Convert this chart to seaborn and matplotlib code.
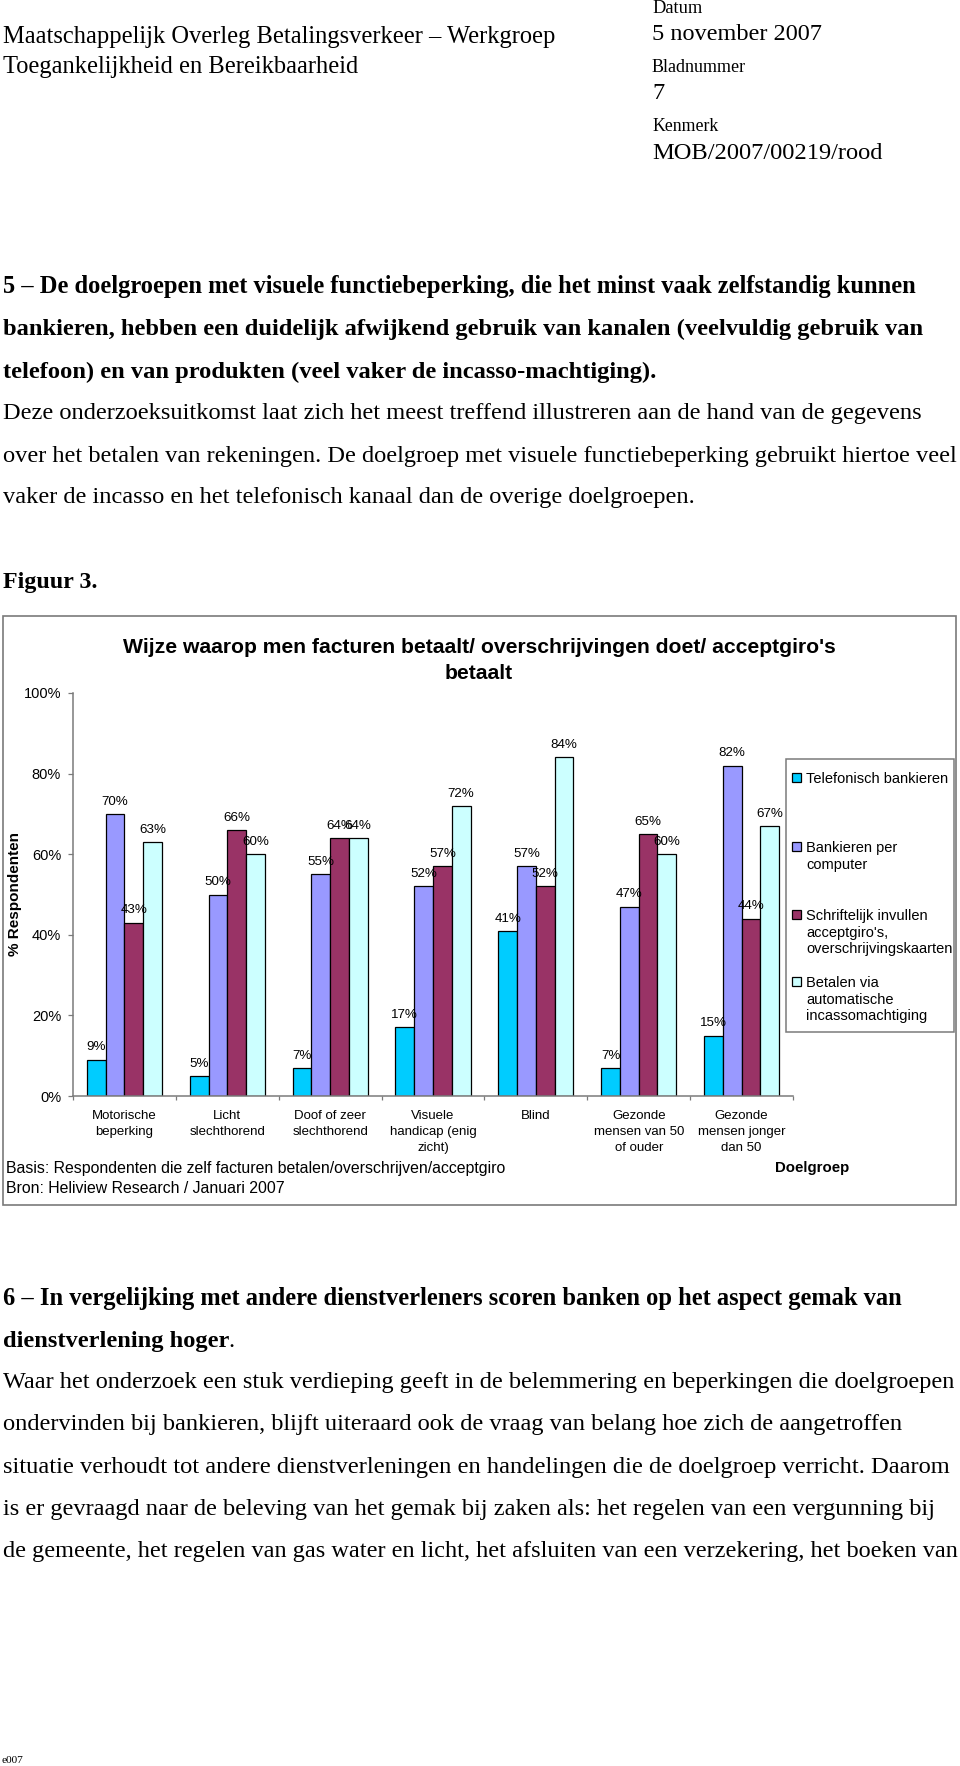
import numpy as np
import pandas as pd
import matplotlib
matplotlib.use("Agg")
import matplotlib.pyplot as plt
from matplotlib.patches import Rectangle
import seaborn as sns

# ---------------- data ----------------
categories = ["Motorische\nbeperking", "Licht\nslechthorend", "Doof of zeer\nslechthorend",
              "Visuele\nhandicap (enig\nzicht)", "Blind", "Gezonde\nmensen van 50\nof ouder",
              "Gezonde\nmensen jonger\ndan 50"]
series = ["Telefonisch bankieren", "Bankieren per computer",
          "Schriftelijk invullen acceptgiro's, overschrijvingskaarten",
          "Betalen via automatische incassomachtiging"]
legend_lines = [["Telefonisch bankieren"], ["Bankieren per", "computer"],
                ["Schriftelijk invullen", "acceptgiro's,", "overschrijvingskaarten"],
                ["Betalen via", "automatische", "incassomachtiging"]]
telefonisch = [9, 5, 7, 17, 41, 7, 15]
computer = [70, 50, 55, 52, 57, 47, 82]
schriftelijk = [43, 66, 64, 57, 52, 65, 44]
incasso = [63, 60, 64, 72, 84, 60, 67]
yticks = [0, 20, 40, 60, 80, 100]
ytick_labels = ["0%", "20%", "40%", "60%", "80%", "100%"]
colors = ["#00CCFF", "#9999FF", "#993366", "#CCFFFF"]

values = [telefonisch, computer, schriftelijk, incasso]
df = pd.DataFrame({
    "Doelgroep": [c for s in series for c in categories],
    "Kanaal": [s for s in series for c in categories],
    "Percentage": [v for vals in values for v in vals],
})

# ---------------- figure ----------------
W, H = 960, 1766
fig = plt.figure(figsize=(W / 100, H / 100), dpi=100)
fig.patch.set_facecolor("white")
R = fig.canvas.get_renderer()
SANS = "Liberation Sans"
SERIF = "Liberation Serif"


def fx(x):
    return x / W


def fy(y):
    return 1 - y / H


def put(s, x0, yb, x1=None, size=12, family=SERIF, weight="normal", ha="left"):
    t = fig.text(fx(x0), fy(yb), s, fontsize=size, family=family, fontweight=weight,
                 ha=ha, va="baseline", color="black")
    if x1 is not None:
        w = t.get_window_extent(renderer=R).width
        t.set_fontsize(size * (x1 - x0) / w)
    return t


# ---------------- page text ----------------
put("Maatschappelijk Overleg Betalingsverkeer \u2013 Werkgroep", 3, 43, 554)
put("Toegankelijkheid en Bereikbaarheid", 3, 73, 357)
put("Datum", 652, 13, 702)
t_date = put("5 november 2007", 652, 40, 821)
put("Bladnummer", 652, 72, 746)
put("7", 652, 99, size=t_date.get_fontsize())
put("Kenmerk", 652, 131, 718)
put("MOB/2007/00219/rood", 652, 159, 882)

put("5 \u2013 De doelgroepen met visuele functiebeperking, die het minst vaak zelfstandig kunnen",
    3, 293, 913, weight="bold")
put("bankieren, hebben een duidelijk afwijkend gebruik van kanalen (veelvuldig gebruik van",
    3, 335, 920, weight="bold")
put("telefoon) en van produkten (veel vaker de incasso-machtiging).", 3, 378, 654, weight="bold")
put("Deze onderzoeksuitkomst laat zich het meest treffend illustreren aan de hand van de gegevens",
    3, 419, 920)
put("over het betalen van rekeningen. De doelgroep met visuele functiebeperking gebruikt hiertoe veel",
    3, 462, 953)
put("vaker de incasso en het telefonisch kanaal dan de overige doelgroepen.", 3, 503, 693)
put("Figuur 3.", 3, 588, 97, weight="bold")

put("6 \u2013 In vergelijking met andere dienstverleners scoren banken op het aspect gemak van",
    3, 1305, 899, weight="bold")
tb = put("dienstverlening hoger", 3, 1347, 227, weight="bold")
put(".", 228, 1347, size=tb.get_fontsize())
put("Waar het onderzoek een stuk verdieping geeft in de belemmering en beperkingen die doelgroepen",
    3, 1388, 951)
put("ondervinden bij bankieren, blijft uiteraard ook de vraag van belang hoe zich de aangetroffen",
    3, 1430, 902)
put("situatie verhoudt tot andere dienstverleningen en handelingen die de doelgroep verricht. Daarom",
    3, 1473, 945)
put("is er gevraagd naar de beleving van het gemak bij zaken als: het regelen van een vergunning bij",
    3, 1515, 934)
put("de gemeente, het regelen van gas water en licht, het afsluiten van een verzekering, het boeken van",
    3, 1557, 951)
put("e007", 2, 1763, 24)

# ---------------- chart frame ----------------
fig.add_artist(Rectangle((fx(3), fy(1205)), (956 - 3) / W, (1205 - 616) / H,
                         transform=fig.transFigure, fill=False, edgecolor="#7a7a7a", lw=1.2))

t1 = fig.text(fx(479), fy(653), "Wijze waarop men facturen betaalt/ overschrijvingen doet/ acceptgiro's",
              fontsize=13, family=SANS, fontweight="bold", ha="center", va="baseline")
w = t1.get_window_extent(renderer=R).width
t1.set_fontsize(13 * (835 - 123) / w)
fig.text(fx(479), fy(679), "betaalt", fontsize=t1.get_fontsize(), family=SANS,
         fontweight="bold", ha="center", va="baseline")

# ---------------- axes ----------------
ax = fig.add_axes([fx(73), fy(1096), 720 / W, (1096 - 693) / H])
ax.set_facecolor("white")
sns.barplot(data=df, x="Doelgroep", y="Percentage", hue="Kanaal", order=categories,
            hue_order=series, palette=colors, width=0.73, gap=0, saturation=1,
            edgecolor="black", linewidth=0.9, errorbar=None, legend=False, ax=ax)

for cont, vals in zip(ax.containers, values):
    ax.bar_label(cont, labels=[f"{v}%" for v in vals], padding=4.5,
                 fontsize=9.6, family=SANS, color="black")

ax.set_xlim(-0.5, 6.5)
ax.set_ylim(0, 100)
for side in ["top", "right"]:
    ax.spines[side].set_visible(False)
for side in ["left", "bottom"]:
    ax.spines[side].set_color("#7a7a7a")
    ax.spines[side].set_linewidth(1.1)

ax.set_yticks(yticks)
ax.set_yticklabels(ytick_labels, fontsize=10.5, family=SANS)
ax.tick_params(axis="y", left=True, length=3.6, width=0.9, color="#7a7a7a", pad=5)


# category labels with calibrated line spacing (17 px between baselines)
def calib_ls(size, family, target_px):
    t = fig.text(0, 0, "lp", fontsize=size, family=family)
    h1 = t.get_window_extent(renderer=R).height
    t.set_text("lp\nlp")
    h2 = t.get_window_extent(renderer=R).height
    t.remove()
    return 1.2 * target_px / (h2 - h1)


cat_size = 9.5
ls = calib_ls(cat_size, SANS, 17)
ax.set_xticks(range(len(categories)))
ax.set_xticklabels(categories, fontsize=cat_size, family=SANS, linespacing=ls)
ax.tick_params(axis="x", which="major", bottom=True, length=0, pad=10)
ax.set_xticks(np.arange(-0.5, len(categories), 1), minor=True)
ax.tick_params(axis="x", which="minor", bottom=True, length=3, width=0.9, color="#7a7a7a")

ax.set_ylabel("% Respondenten", fontsize=11, fontweight="bold", family=SANS, va="center")
ax.yaxis.set_label_coords((15 - 73) / 720, 0.5)
ax.set_xlabel("Doelgroep", fontsize=10.8, fontweight="bold", family=SANS)
ax.xaxis.set_label_coords((812 - 73) / 720, -(1161 - 1096) / 403)

# source notes
put("Basis: Respondenten die zelf facturen betalen/overschrijven/acceptgiro", 6, 1173, 507, family=SANS)
put("Bron: Heliview Research / Januari 2007", 6, 1193, 285, family=SANS)

# ---------------- legend ----------------
fig.add_artist(Rectangle((fx(786), fy(1032)), (954 - 786) / W, (1032 - 759) / H,
                         transform=fig.transFigure, fill=False, edgecolor="#7a7a7a", lw=1.1))
tl = fig.text(fx(806), fy(783), legend_lines[0][0], fontsize=10.5, family=SANS, va="baseline")
w = tl.get_window_extent(renderer=R).width
leg_size = 10.5 * (948 - 806) / w
tl.remove()
first_baselines = [783, 852, 920, 987]
for lines, yb, col in zip(legend_lines, first_baselines, colors):
    fig.add_artist(Rectangle((fx(792), fy(yb - 1)), 9 / W, 9 / H, transform=fig.transFigure,
                             facecolor=col, edgecolor="black", lw=0.9))
    for i, line in enumerate(lines):
        put(line, 806, yb + i * 16.7, size=leg_size, family=SANS)

fig.savefig("out.png", dpi=100, facecolor="white")
